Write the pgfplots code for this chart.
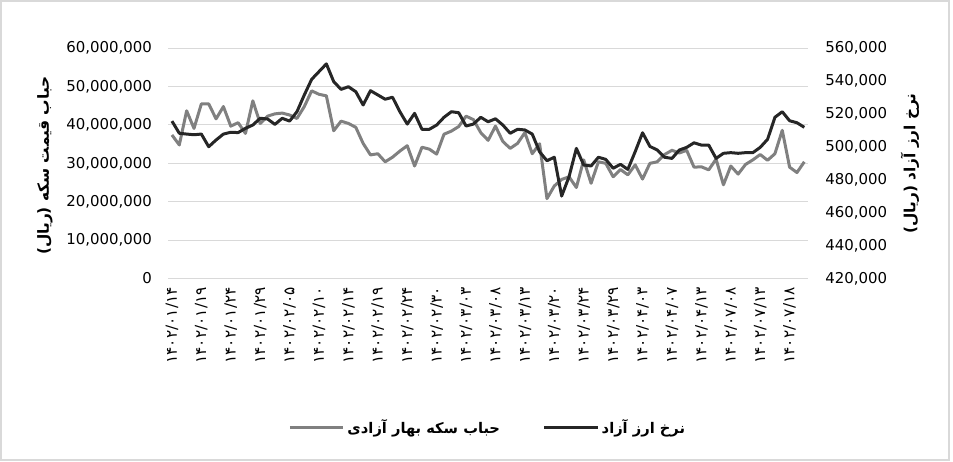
\documentclass[border=0pt]{standalone}
\usepackage{fontspec}
\setmainfont{DejaVu Sans}
\newfontfamily\arabicfont[Script=Arabic]{DejaVu Sans}
\TeXXeTstate=1
\usepackage{pgfplots}
\usepackage{pgfplotstable}
\pgfplotsset{compat=1.18}

\definecolor{gridgray}{RGB}{217,217,217}
\definecolor{coingray}{RGB}{128,128,128}
\definecolor{fxblack}{RGB}{38,38,38}

% x = trading day index, coin = coin bubble (rial), fx = free market rate (rial)
\pgfplotstableread{
x coin fx
0 37400000 515700
1 34800000 508300
2 43700000 507800
3 39100000 507400
4 45500000 507800
5 45500000 500100
6 41600000 504200
7 44800000 507800
8 39700000 508900
9 40600000 508700
10 37800000 511300
11 46300000 513300
12 40400000 517400
13 42300000 517000
14 42900000 513700
15 43100000 517400
16 42600000 515700
17 41700000 521400
18 44800000 531600
19 48900000 541100
20 48000000 545800
21 47600000 550500
22 38500000 539700
23 41000000 535000
24 40400000 536600
25 39400000 533600
26 35200000 525500
27 32200000 534200
28 32500000 531600
29 30400000 529000
30 31600000 530200
31 33200000 521400
32 34600000 513900
33 29300000 520400
34 34200000 510700
35 33700000 510700
36 32400000 513300
37 37600000 518000
38 38400000 521400
39 39600000 520800
40 42300000 512700
41 41400000 513900
42 38000000 518000
43 36000000 515300
44 39700000 517100
45 35700000 513300
46 33900000 508300
47 35200000 510700
48 38000000 510300
49 32500000 507800
50 35100000 497000
51 20800000 491600
52 24100000 493700
53 25800000 470100
54 26500000 481800
55 23700000 499100
56 30900000 489000
57 24800000 488400
58 30400000 493700
59 30000000 492400
60 26500000 487000
61 28400000 489400
62 27000000 486300
63 29600000 497100
64 25900000 508600
65 30000000 500300
66 30400000 498100
67 32300000 493700
68 33400000 493000
69 32700000 498100
70 33400000 499700
71 29000000 502500
72 29100000 501100
73 28300000 501100
74 31100000 493000
75 24400000 496100
76 29300000 496500
77 27200000 496100
78 29700000 496500
79 30900000 496500
80 32300000 499700
81 30800000 504600
82 32500000 518000
83 38600000 521400
84 29000000 515900
85 27600000 514700
86 30400000 511900
}\datatable

\pgfplotsset{
  chartbase/.style={
    at={(126.2pt,136.95pt)}, anchor=south west,
    scale only axis, width=479.8pt, height=172.6pt,
    xmin=-0.5, xmax=86.5,
    axis line style={draw=none},
    tick style={draw=none},
    scaled y ticks=false,
    /pgf/number format/fixed,
    /pgf/number format/precision=0,
    /pgf/number format/1000 sep={,},
    /pgf/number format/assume math mode=true,
    yticklabel style={font=\fontsize{11.2}{13}\selectfont, inner sep=0pt},
    label style={font=\arabicfont\bfseries\fontsize{11.5}{13}\selectfont},
  },
}

\begin{document}
\begin{tikzpicture}
\useasboundingbox (0,0) rectangle (714.75pt,345.75pt);
\draw[gridgray, line width=1pt] (0.75pt,0.75pt) rectangle (711.75pt,345pt);

\begin{axis}[
  chartbase,
  ymin=0, ymax=60000000,
  ytick={0,10000000,20000000,30000000,40000000,50000000,60000000},
  ymajorgrids,
  major grid style={gridgray, line width=0.75pt},
  yticklabel style={anchor=east, xshift=-12pt},
  xtick={0,4,...,84},
  xticklabels={۱۴۰۲/۰۱/۱۴,۱۴۰۲/۰۱/۱۹,۱۴۰۲/۰۱/۲۴,۱۴۰۲/۰۱/۲۹,۱۴۰۲/۰۲/۰۵,۱۴۰۲/۰۲/۱۰,۱۴۰۲/۰۲/۱۴,۱۴۰۲/۰۲/۱۹,۱۴۰۲/۰۲/۲۴,۱۴۰۲/۰۲/۳۰,۱۴۰۲/۰۳/۰۳,۱۴۰۲/۰۳/۰۸,۱۴۰۲/۰۳/۱۳,۱۴۰۲/۰۳/۲۰,۱۴۰۲/۰۳/۲۴,۱۴۰۲/۰۳/۲۹,۱۴۰۲/۰۴/۰۳,۱۴۰۲/۰۴/۰۷,۱۴۰۲/۰۴/۱۳,۱۴۰۲/۰۷/۰۸,۱۴۰۲/۰۷/۱۳,۱۴۰۲/۰۷/۱۸},
  xticklabel style={font=\arabicfont\fontsize{11.5}{13}\selectfont, inner sep=0pt, yshift=-6.5pt, rotate=90, anchor=east},
  ylabel={\beginR حباب قیمت سکه (ریال)\endR},
  ylabel style={at={(axis description cs:-0.1927,0.49)}, anchor=center},
]
\addplot[coingray, line width=2.25pt, line join=round] table[x=x, y=coin] {\datatable};
\end{axis}

\begin{axis}[
  chartbase,
  axis x line=none,
  axis y line*=right,
  ymin=420000, ymax=560000,
  ytick={420000,440000,460000,480000,500000,520000,540000,560000},
  yticklabel style={anchor=west, xshift=12.75pt},
  ylabel={\beginR نرخ ارز آزاد (ریال)\endR},
  ylabel style={at={(axis description cs:1.1594,0.5)}, anchor=center},
  legend columns=2,
  legend style={at={(axis description cs:0.5,-0.65)}, anchor=center, draw=none, fill=none,
    font=\arabicfont\bfseries\fontsize{11}{13}\selectfont,
    /tikz/every even column/.append style={column sep=30pt}},
  legend image code/.code={\draw[#1] (0pt,0pt) -- (40pt,0pt);},
]
\addlegendimage{coingray, line width=2.25pt}
\addlegendentry{\beginR حباب سکه بهار آزادی\endR}
\addplot[fxblack, line width=2.25pt, line join=round] table[x=x, y=fx] {\datatable};
\addlegendentry{\beginR نرخ ارز آزاد\endR}
\end{axis}
\end{tikzpicture}
\end{document}
